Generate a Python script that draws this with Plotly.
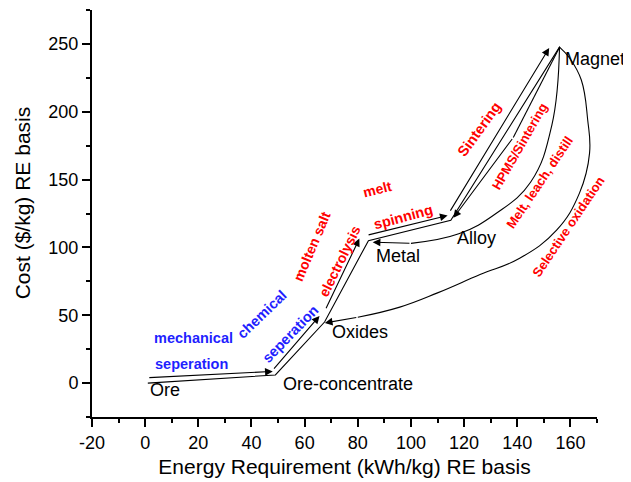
import plotly.graph_objects as go

# ---- data ----
stage_names = ["Ore", "Ore-concentrate", "Oxides", "Metal", "Alloy", "Magnet"]
stage_energy = [1, 49, 67.5, 84, 115, 156]        # kWh/kg
stage_cost = [0, 6, 45, 105, 120, 248]            # $/kg

# forward processing arrows (drawn just above the base path)
fwd_from_energy = [1, 48, 67.8, 83.5, 114.5]
fwd_from_cost = [4, 9.5, 54, 109, 126]
fwd_to_energy = [48, 65.6, 80.6, 113.8, 152]
fwd_to_cost = [8.6, 49.5, 106.5, 123.5, 247]

# recycling routes back from the magnet
hpms_energy = [156, 138.5, 116]
hpms_cost = [248, 181, 121.8]
melt_energy = [155.9, 153, 145, 132, 118, 100, 85.6]
melt_cost = [247.7, 190, 148, 125, 110, 103, 103.8]
selox_energy = [155.9, 159.7, 164.1, 166.5, 167.2, 163.4, 154.8, 140.9, 126, 110, 95.8, 80, 67.6]
selox_cost = [247.7, 239.6, 223.4, 193.9, 169.5, 140, 112.7, 92, 80, 66.5, 56, 48.5, 44.3]

# axis ticks
x_ticks = [-20, 0, 20, 40, 60, 80, 100, 120, 140, 160]
x_tick_text = ["-20", "0", "20", "40", "60", "80", "100", "120", "140", "160"]
y_ticks = [0, 50, 100, 150, 200, 250]

# stage label anchors (left edge of text)
stage_label_x = [1, 51, 69.5, 86, 116.5, 157.3]
stage_label_y = [-5, -1, 37.5, 94, 107, 239]

# process labels
proc_text = ["mechanical", "seperation", "chemical", "seperation", "molten salt", "electrolysis",
             "melt", "spinning", "Sintering", "HPMS/Sintering", "Melt, leach, distill",
             "Selective oxidation"]
proc_x = [18.0, 17.4, 44.1, 54.7, 62.6, 73.2, 87.6, 97, 125.8, 141.2, 148.4, 159.4]
proc_y = [33.4, 13.8, 50.7, 35.9, 100.4, 90, 142.8, 122.5, 187.1, 174.8, 147.8, 115.1]
proc_angle = [0, 0, -44, -46, -67, -64, -14, -15, -54, -60, -56, -56]
proc_color = ["#1f1fff"] * 4 + ["#ff0000"] * 8
proc_size = [14.5, 14.5, 14.5, 14.5, 14, 14, 14, 14.5, 14.5, 13, 13, 13]

FONT = "Arial, Liberation Sans, sans-serif"

fig = go.Figure()

# base path
fig.add_trace(go.Scatter(x=stage_energy, y=stage_cost, mode="lines",
                         line=dict(color="black", width=1.1), hoverinfo="skip"))
# curved returns
for xs, ys in [(hpms_energy, hpms_cost), (melt_energy, melt_cost), (selox_energy, selox_cost)]:
    fig.add_trace(go.Scatter(x=xs[:-1], y=ys[:-1], mode="lines",
                             line=dict(color="black", width=1.1, shape="spline", smoothing=1.2),
                             hoverinfo="skip"))

annotations = []
arrow_style = dict(showarrow=True, arrowhead=2, arrowsize=1.4, arrowwidth=1.1,
                   arrowcolor="black", standoff=0, startstandoff=0, text="",
                   xref="x", yref="y", axref="x", ayref="y")
for x0, y0, x1, y1 in zip(fwd_from_energy, fwd_from_cost, fwd_to_energy, fwd_to_cost):
    annotations.append(dict(x=x1, y=y1, ax=x0, ay=y0, **arrow_style))
for xs, ys in [(hpms_energy, hpms_cost), (melt_energy, melt_cost), (selox_energy, selox_cost)]:
    annotations.append(dict(x=xs[-1], y=ys[-1], ax=xs[-2], ay=ys[-2], **arrow_style))

for name, x, y in zip(stage_names, stage_label_x, stage_label_y):
    annotations.append(dict(x=x, y=y, text=name, showarrow=False, xanchor="left",
                            yanchor="middle", xref="x", yref="y",
                            font=dict(family=FONT, size=18, color="black")))

for t, x, y, a, c, s in zip(proc_text, proc_x, proc_y, proc_angle, proc_color, proc_size):
    annotations.append(dict(x=x, y=y, text="<b>%s</b>" % t, showarrow=False, textangle=a,
                            xref="x", yref="y",
                            font=dict(family=FONT, size=s, color=c)))

# y-axis title placed as a paper annotation (sits further left than the axis title allows)
annotations.append(dict(text="Cost ($/kg) RE basis", xref="paper", yref="paper",
                        x=-0.1386, y=0.525, showarrow=False, textangle=-90,
                        xanchor="center", yanchor="middle",
                        font=dict(family=FONT, size=21, color="black")))

axis_common = dict(showline=True, linewidth=2, linecolor="black", ticks="outside",
                   ticklen=8, tickwidth=1.5, tickcolor="black", showgrid=False,
                   zeroline=False, mirror=False, automargin=False,
                   tickfont=dict(family=FONT, size=18, color="black"))

# the page body adds an 8px margin, so the figure is sized to the visible area
fig.update_layout(
    width=623, height=474,
    margin=dict(l=84, r=34, t=2, b=65),
    plot_bgcolor="white", paper_bgcolor="white",
    showlegend=False,
    annotations=annotations,
    xaxis=dict(range=[-20, 170], tickmode="array", tickvals=x_ticks, ticktext=x_tick_text,
               minor=dict(dtick=10, tick0=-20, ticklen=4, tickwidth=1.5, tickcolor="black",
                          ticks="outside"),
               title=dict(text="Energy Requirement (kWh/kg) RE basis",
                          font=dict(family=FONT, size=21, color="black"), standoff=8),
               **axis_common),
    yaxis=dict(range=[-25, 275], tickmode="array", tickvals=y_ticks,
               minor=dict(dtick=25, tick0=0, ticklen=4, tickwidth=1.5, tickcolor="black",
                          ticks="outside"),
               **axis_common),
)

fig.write_html("out.html")
